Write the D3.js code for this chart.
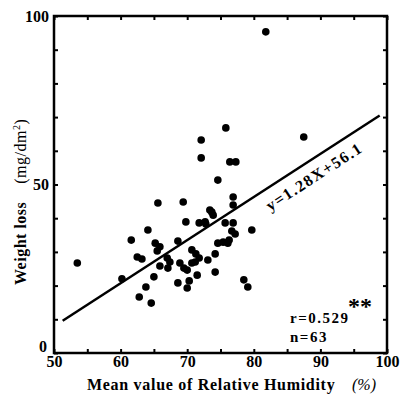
<!DOCTYPE html>
<html>
<head>
<meta charset="utf-8" />
<style>
    body{ margin: 0; background: #fff; }
    svg{ display: block; }
    text{ font-family: "Liberation Serif", "DejaVu Serif", serif; font-weight: bold; fill: #000; }
</style>
</head>
<body>
<svg id="chart" width="401" height="400"></svg>
<script src="https://cdnjs.cloudflare.com/ajax/libs/d3/7.8.5/d3.min.js"></script>
<script>
// mean relative humidity (%)
var humidity = [53.5, 81.8, 87.5, 72.1, 72.1, 75.8, 76.4, 77.3, 74.6, 65.6,
    69.4, 76.9, 76.9, 73.4, 73.9, 69.8, 71.8, 72.7, 75.7, 76.9,
    79.7, 76.7, 77.2, 68.6, 74.6, 75.4, 76.3, 65.2, 65.5, 70.7,
    71.3, 67.0, 74.2, 73.1, 65.9, 67.1, 68.9, 70.7, 70.0, 71.5,
    74.2, 68.6, 70.3, 70.0, 78.5, 79.1, 60.2, 61.6, 64.1, 62.5,
    63.2, 65.0, 63.8, 62.8, 64.6, 71.2, 69.5, 71.8, 76.1, 67.4,
    72.8, 65.9, 73.7];
// weight loss (mg/dm2)
var weightLoss = [26.7, 95.3, 64.1, 63.2, 57.9, 66.8, 56.7, 56.7, 51.3, 44.5,
    44.8, 46.3, 43.9, 42.4, 40.9, 38.9, 38.6, 38.9, 38.6, 38.6,
    36.5, 36.2, 35.3, 33.2, 32.6, 32.9, 33.5, 32.6, 30.3, 30.6,
    29.4, 28.2, 29.4, 27.6, 25.8, 25.2, 26.7, 26.7, 24.6, 23.1,
    24.0, 20.8, 21.4, 19.3, 21.7, 19.6, 22.0, 33.5, 36.5, 28.5,
    27.9, 22.6, 19.6, 16.6, 14.8, 27.0, 25.2, 28.2, 32.6, 27.0,
    38.3, 31.5, 41.8];
var slope = 1.28, intercept = -56.1;
var fitRange = [51.3, 98.9];
var xTicks = [50, 55, 60, 65, 70, 75, 80, 85, 90, 95, 100];
var yTicks = [0, 10, 20, 30, 40, 50, 60, 70, 80, 90, 100];
var xLabels = [50, 60, 70, 80, 90, 100];
var yLabels = [0, 50, 100];

var svg = d3.select('#chart');
var mLeft = 54, mRight = 387, mTop = 16, mBottom = 353;

var x = d3.scaleLinear().domain([50, 100]).range([mLeft, mRight]);
var y = d3.scaleLinear().domain([0, 100]).range([mBottom, mTop]);

var data = humidity.map(function(h, i){ return {h: h, w: weightLoss[i]}; });

function fmt(list){
    return function(d){ return list.indexOf(d) >= 0 ? d : ''; };
}

svg.append('g').attr('transform', 'translate(0,' + mBottom + ')')
    .call(d3.axisBottom(x).tickValues(xTicks).tickFormat(fmt(xLabels)).tickSize(-4).tickPadding(3));
svg.append('g').attr('transform', 'translate(0,' + mTop + ')')
    .call(d3.axisTop(x).tickValues(xTicks).tickFormat('').tickSize(-4));
var gy = svg.append('g').attr('transform', 'translate(' + mLeft + ',0)')
    .call(d3.axisLeft(y).tickValues(yTicks).tickFormat(fmt(yLabels)).tickSize(-4).tickPadding(5));
svg.append('g').attr('transform', 'translate(' + mRight + ',0)')
    .call(d3.axisRight(y).tickValues(yTicks).tickFormat('').tickSize(-4));

svg.selectAll('.domain').remove();
svg.selectAll('.tick line').attr('stroke', '#000').attr('stroke-width', 2);
svg.selectAll('.tick text').style('font-size', '16px')
    .style('font-family', '"Liberation Serif", serif').style('font-weight', 'bold');
// the "0" sits a little above the corner
gy.selectAll('.tick text').filter(function(d){ return d === 0; })
    .attr('dy', '-0.1em').attr('x', -7);

svg.append('rect')
    .attr('x', mLeft).attr('y', mTop)
    .attr('width', mRight - mLeft).attr('height', mBottom - mTop)
    .attr('fill', 'none').attr('stroke', '#000').attr('stroke-width', 2.5);

// regression line
svg.append('line')
    .attr('x1', x(fitRange[0])).attr('y1', y(slope * fitRange[0] + intercept))
    .attr('x2', x(fitRange[1])).attr('y2', y(slope * fitRange[1] + intercept))
    .attr('stroke', '#000').attr('stroke-width', 2.5);

svg.selectAll('.dot')
    .data(data)
    .enter().append('circle')
    .attr('class', 'dot')
    .attr('cx', function(d){ return x(d.h); })
    .attr('cy', function(d){ return y(d.w); })
    .attr('r', 3.8)
    .attr('fill', '#000');

// equation label along the line
var angle = Math.atan2(y(slope * fitRange[1] + intercept) - y(slope * fitRange[0] + intercept),
    x(fitRange[1]) - x(fitRange[0])) * 180 / Math.PI;
svg.append('text')
    .attr('transform', 'translate(' + x(89.5) + ',' + y(51) + ') rotate(' + angle + ')')
    .attr('text-anchor', 'middle')
    .style('font-size', '16px')
    .style('letter-spacing', '1.5px')
    .text('y=1.28X+56.1');

svg.append('text').attr('x', 290).attr('y', 323)
    .style('font-size', '15px').style('letter-spacing', '1.5px')
    .text('r=0.529');
svg.append('text').attr('x', 348).attr('y', 314)
    .style('font-size', '24px')
    .text('**');
svg.append('text').attr('x', 290).attr('y', 342)
    .style('font-size', '15px').style('letter-spacing', '1.5px')
    .text('n=63');

// axis titles
svg.append('text').attr('x', 87).attr('y', 390)
    .style('font-size', '16px').style('letter-spacing', '0.7px')
    .text('Mean value of Relative Humidity');
svg.append('text').attr('x', 352).attr('y', 390)
    .style('font-size', '16px').style('font-weight', 'normal').style('font-style', 'italic')
    .text('(%)');

var yt = svg.append('text')
    .attr('transform', 'translate(26,285) rotate(-90)')
    .style('font-size', '16px').style('letter-spacing', '0.5px');
yt.append('tspan').text('Weight loss');
yt.append('tspan').attr('dx', 18).style('font-weight', 'normal').text('(mg/dm');
yt.append('tspan').attr('dy', -6).style('font-size', '10px').style('font-weight', 'normal').text('2');
yt.append('tspan').attr('dy', 6).style('font-weight', 'normal').text(')');
</script>
</body>
</html>
